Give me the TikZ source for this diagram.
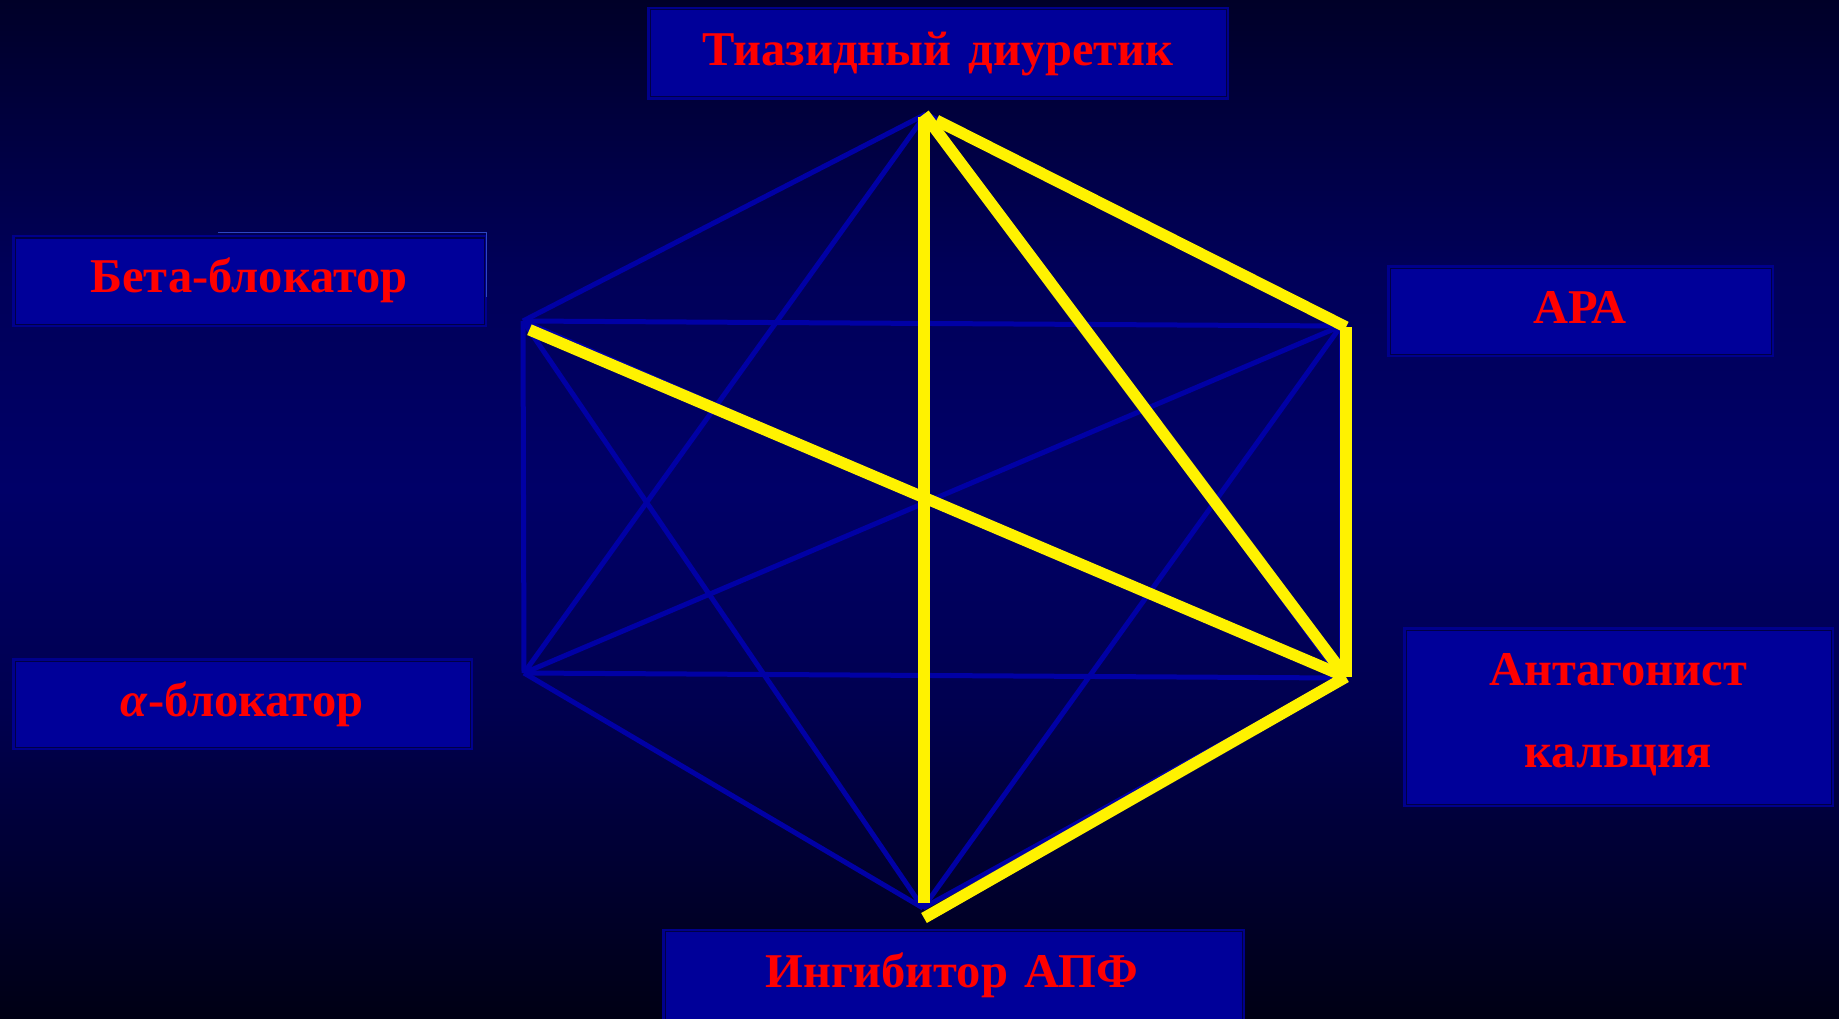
\documentclass[tikz,border=0pt]{standalone}
\usepackage{fontspec}
\setmainfont{Liberation Serif}
\usepackage{tikz}
\usetikzlibrary{positioning, calc}
\definecolor{bgtop}{RGB}{0,0,40}
\definecolor{bgmid}{RGB}{0,0,104}
\definecolor{bgbot}{RGB}{0,0,20}
\definecolor{edgeblue}{RGB}{0,0,165}
\definecolor{boxfill}{RGB}{0,0,153}
\definecolor{boxrim}{RGB}{0,0,140}
\definecolor{boxline}{RGB}{0,0,70}
\definecolor{ghostblue}{RGB}{45,70,195}
\pgfdeclareverticalshading{slidebg}{100bp}{color(0bp)=(bgbot); color(25bp)=(bgbot);
  color(40bp)=(bgmid!70!bgbot); color(51bp)=(bgmid); color(62bp)=(bgmid!75!bgtop);
  color(75bp)=(bgtop); color(100bp)=(bgtop)}
\tikzset{
    drugbox/.style={draw=boxrim, fill=boxfill, line width=3pt, inner sep=0pt},
    druglabel/.style={text=red, font=\fontsize{48.5}{82}\selectfont\bfseries, inner sep=0pt, anchor=base},
    blueedge/.style={draw=edgeblue, line width=5pt},
    yelledge/.style={draw=yellow, line width=11.5pt},
    ghostline/.style={draw=ghostblue, line width=1pt},
}

\begin{document}
\begin{tikzpicture}[x=1pt, y=-1pt]

\useasboundingbox (0,0) rectangle (1839,1019);
\clip (0,0) rectangle (1839,1019);
\shade[shading=slidebg] (0,0) rectangle (1839,1019);

% hexagon corners
\coordinate (T)  at (926,114);
\coordinate (UL) at (523,321);
\coordinate (UR) at (1341,326);
\coordinate (LR) at (1341,678);
\coordinate (LL) at (524,673);
\coordinate (B)  at (923,908);

% every pair joined in blue
\foreach \a/\b in {T/UL, T/UR, T/LR, T/LL, T/B, UL/UR, UL/LR, UL/LL, UL/B,
                   UR/LR, UR/LL, UR/B, LR/LL, LR/B, LL/B} {
  \draw[blueedge] (\a) -- (\b);
}

% yellow combinations
\coordinate (yT)  at (924,114);
\coordinate (yUL) at (523,327);
\coordinate (yUR) at (1346,327);
\coordinate (yLR) at (1346,677);
\coordinate (yB)  at (924,918);

\draw[yelledge, shorten <=3pt, shorten >=15pt] (yT) -- (yB);
\draw[yelledge, shorten <=14pt] (yT) -- (yUR);
\draw[yelledge, shorten >=5pt] (yT) -- (yLR);
\draw[yelledge, shorten <=7pt, shorten >=3pt] (yUL) -- (yLR);
\draw[yelledge] (yUR) -- (yLR);
\draw[yelledge] (yLR) -- (yB);

% drug class boxes
\node[drugbox, minimum width=579pt, minimum height=90pt] (tiazbox) at (938,53.5) {};
\node[drugbox, minimum width=472pt, minimum height=89pt] (betabox) at (249.5,281) {};
\node[drugbox, minimum width=458pt, minimum height=89pt] (alphabox) at (242.5,704) {};
\node[drugbox, minimum width=384pt, minimum height=89pt] (arabox) at (1580.5,311) {};
\node[drugbox, minimum width=428pt, minimum height=177pt] (cabox) at (1618.5,717) {};
\node[drugbox, minimum width=580pt, minimum height=100pt] (acebox) at (953.5,980) {};

\foreach \bx in {tiazbox, betabox, alphabox, arabox, cabox, acebox} {
  \draw[boxline, line width=1pt] ([shift={(3,3)}]\bx.north west) rectangle ([shift={(-3,-3)}]\bx.south east);
}
\draw[ghostline] ([shift={(206,-2.5)}]betabox.north west) -- ([shift={(-1,-2.5)}]betabox.north east) -- ([shift={(-1,62)}]betabox.north east);

% labels
\node[druglabel] (tiaz) at (938,66) {Тиазидный\hspace{0.35em}диуретик};
\node[druglabel] (beta) at (249,292) {Бета-блокатор};
\node[druglabel] (alpha) at (242,716) {\textit{α}-блокатор};
\node[druglabel] (ara) at (1580,323) {АРА};
\node[druglabel, align=center] (ca) at (1618,767) {Антагонист\\кальция};
\node[druglabel] (ace) at (952,987) {Ингибитор\hspace{0.35em}АПФ};

\end{tikzpicture}
\end{document}
